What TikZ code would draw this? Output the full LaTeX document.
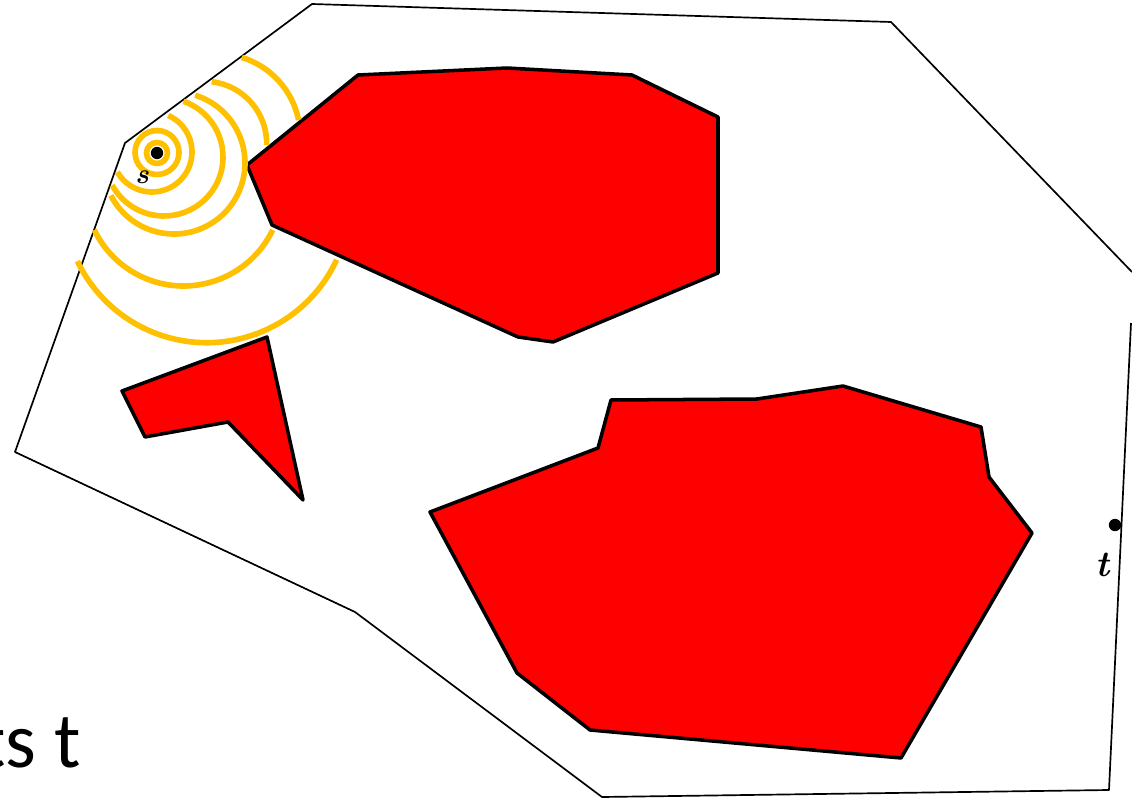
\documentclass[tikz,border=0pt]{standalone}
\usepackage{fontspec}
\newfontfamily\textofont{Carlito}
\definecolor{rojo}{RGB}{255,0,0}
\definecolor{oro}{RGB}{255,192,0}
\begin{document}
\begin{tikzpicture}[x=0.025cm, y=-0.025cm,
    borde/.style={line width=1.2pt, line join=round},
    obst/.style={fill=rojo, draw=black, line width=2.5pt, line join=round},
    onda/.style={draw=oro, line width=4pt},
    punto/.style={circle, fill=black, inner sep=0pt, minimum size=3.1mm}]
    \useasboundingbox (0,0) rectangle (1132,801);

    % Contorno exterior
    \draw[borde] (1131,323) -- (1109,790) -- (602,797) -- (355,612) -- (15,452)
        -- (125,143) -- (312,4) -- (891,22) -- (1132,272);

    % Obstáculos
    \draw[obst] (247,165) -- (358,75) -- (507,68) -- (632,75) -- (718,117)
        -- (718,273) -- (553,342) -- (518,337) -- (272,225) -- cycle;
    \draw[obst] (122,391) -- (267,337) -- (303,500) -- (228,422) -- (145,437) -- cycle;
    \draw[obst] (430,512) -- (598,448) -- (611,400) -- (757,399) -- (843,386)
        -- (981,427) -- (989,477) -- (1032,533) -- (901,758) -- (590,730)
        -- (517,673) -- cycle;

    % Frentes de onda desde s
    \draw[onda] (157,153) circle[radius=10.5];
    \draw[onda] (157,152.5) circle[radius=22];
    \draw[onda] (152,152) ++(-66:40) arc[start angle=-66, end angle=150, radius=40];
    \draw[onda] (164,157) ++(-70.6:59) arc[start angle=-70.6, end angle=151.4, radius=59];
    \draw[onda] (174,163) ++(-72.7:71) arc[start angle=-72.7, end angle=152.8, radius=71];
    \draw[onda] (204.4,143.6) ++(-83.3:62.3) arc[start angle=-83.3, end angle=1.3, radius=62.3];
    \draw[onda] (183.5,187) ++(25.7:99) arc[start angle=25.7, end angle=154.3, radius=99];
    \draw[onda] (217.3,136.7) ++(-72.8:83) arc[start angle=-72.8, end angle=-11.6, radius=83];
    \draw[onda] (206.7,199.4) ++(24.9:143.3) arc[start angle=24.9, end angle=154.5, radius=143.3];

    % Puntos s y t
    \node[punto] (s) at (157,153) {};
    \node[font=\fontsize{20}{20}\selectfont\bfseries\itshape, inner sep=0pt] (ls) at (142,177) {s};
    \node[punto] (t) at (1115,525) {};
    \node[font=\fontsize{26}{26}\selectfont\bfseries\itshape, inner sep=0pt] (lt) at (1103,565) {t};

    % Texto cortado
    \node[anchor=base east, inner sep=0pt, font=\textofont\fontsize{56}{60}\selectfont] (texto) at (81,767) {ts t};
\end{tikzpicture}
\end{document}
